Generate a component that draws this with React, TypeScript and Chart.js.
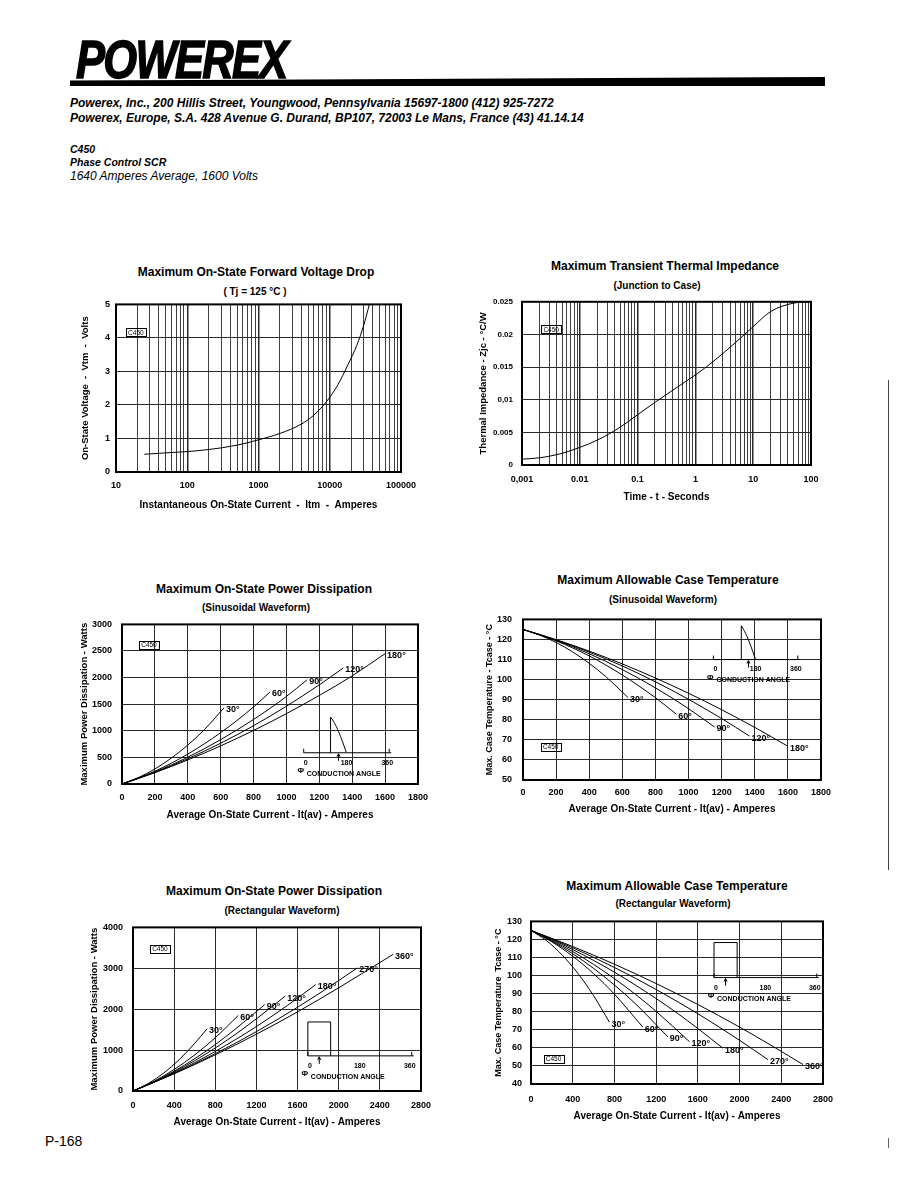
import React, { useEffect, useRef } from "react";
import { Chart, registerables } from "chart.js";

Chart.register(...registerables);

const FONT = "'Liberation Sans', Arial, Helvetica, sans-serif";

// ---------------- Chart 1: forward voltage drop ----------------
const fwdCurrent = [25, 50, 100, 200, 500, 1000, 2000, 4000, 6000, 9000, 13000, 18000, 24000, 30000, 36000];
const fwdVoltage = [0.53, 0.57, 0.61, 0.67, 0.8, 0.96, 1.15, 1.43, 1.7, 2.1, 2.6, 3.2, 3.78, 4.38, 5.0];
const fwdDecades = [10, 100, 1000, 10000, 100000];
const fwdDecadeLabels = ["10", "100", "1000", "10000", "100000"];

// ---------------- Chart 2: transient thermal impedance ----------------
const thermTime = [0.001, 0.002, 0.005, 0.01, 0.02, 0.05, 0.1, 0.2, 0.5, 1, 2, 5, 10, 20, 50, 100];
const thermZ = [0.0009, 0.0011, 0.0018, 0.0027, 0.0038, 0.0058, 0.0077, 0.0096, 0.012, 0.0138, 0.0158, 0.0188, 0.0212, 0.0235, 0.0248, 0.025];
const thermDecades = [0.001, 0.01, 0.1, 1, 10, 100];
const thermDecadeLabels = ["0,001", "0.01", "0.1", "1", "10", "100"];
const thermYLabels = ["0", "0.005", "0,01", "0.015", "0.02", "0.025"];

// ---------------- Chart 3: power dissipation, sinusoidal ----------------
const sinAngles = ["30°", "60°", "90°", "120°", "180°"];
const sinCur30 = [0, 100, 200, 300, 400, 500, 620];
const sinPow30 = [0, 121, 283, 487, 732, 1019, 1430];
const sinCur60 = [0, 200, 400, 600, 800, 900];
const sinPow60 = [0, 241, 562, 965, 1448, 1730];
const sinCur90 = [0, 200, 400, 600, 800, 1000, 1126];
const sinPow90 = [0, 226, 503, 833, 1213, 1646, 1960];
const sinCur120 = [0, 200, 400, 600, 800, 1000, 1200, 1346];
const sinPow120 = [0, 218, 474, 766, 1096, 1462, 1865, 2182];
const sinCur180 = [0, 200, 400, 600, 800, 1000, 1200, 1400, 1600];
const sinPow180 = [0, 213, 452, 716, 1007, 1323, 1665, 2033, 2450];

// ---------------- Chart 4: case temperature, sinusoidal ----------------
const tcsCur30 = [0, 100, 200, 300, 400, 500, 634];
const tcsT30 = [125, 122.2, 118.5, 113.8, 108.1, 101.5, 91.1];
const tcsCur60 = [0, 200, 400, 600, 800, 926];
const tcsT60 = [125, 119.3, 111.8, 102.3, 91, 82.8];
const tcsCur90 = [0, 200, 400, 600, 800, 1000, 1157];
const tcsT90 = [125, 119.6, 112.9, 105, 95.9, 85.5, 76.4];
const tcsCur120 = [0, 200, 400, 600, 800, 1000, 1200, 1368];
const tcsT120 = [125, 119.8, 113.7, 106.8, 98.9, 90.2, 80.6, 71.9];
const tcsCur180 = [0, 200, 400, 600, 800, 1000, 1200, 1400, 1600];
const tcsT180 = [125, 119.9, 114.2, 107.8, 100.8, 93.2, 85, 76.2, 66.8];

// ---------------- Chart 5: power dissipation, rectangular ----------------
const recAngles = ["30°", "60°", "90°", "120°", "180°", "270°", "360°"];
const recCur30 = [0, 150, 300, 450, 600, 720];
const recPow30 = [0, 185, 441, 768, 1166, 1520];
const recCur60 = [0, 200, 400, 600, 800, 1024];
const recPow60 = [0, 231, 526, 883, 1303, 1848];
const recCur90 = [0, 200, 400, 600, 800, 1000, 1280];
const recPow90 = [0, 221, 484, 789, 1135, 1524, 2110];
const recCur120 = [0, 200, 400, 600, 800, 1000, 1200, 1480];
const recPow120 = [0, 216, 463, 741, 1052, 1393, 1766, 2320];
const recCur180 = [0, 200, 400, 600, 800, 1000, 1200, 1400, 1600, 1776];
const recPow180 = [0, 210, 442, 694, 968, 1262, 1577, 1914, 2271, 2600];
const recCur270 = [0, 400, 800, 1200, 1600, 2000, 2180];
const recPow270 = [0, 428, 912, 1452, 2048, 2700, 3010];
const recCur360 = [0, 400, 800, 1200, 1600, 2000, 2528];
const recPow360 = [0, 421, 884, 1389, 1935, 2524, 3340];

// ---------------- Chart 6: case temperature, rectangular ----------------
const tcrCur30 = [0, 150, 300, 450, 600, 752];
const tcrT30 = [125, 119.3, 111.3, 101.2, 88.9, 74.2];
const tcrCur60 = [0, 200, 400, 600, 800, 1072];
const tcrT60 = [125, 118.7, 110.7, 101.1, 89.7, 71.5];
const tcrCur90 = [0, 200, 400, 600, 800, 1000, 1312];
const tcrT90 = [125, 119.1, 112.1, 104, 94.8, 84.5, 66.1];
const tcrCur120 = [0, 200, 400, 600, 800, 1000, 1200, 1520];
const tcrT120 = [125, 119.5, 113.3, 106.2, 98.3, 89.7, 80.2, 63.4];
const tcrCur180 = [0, 200, 400, 600, 800, 1000, 1200, 1400, 1600, 1840];
const tcrT180 = [125, 120, 114.4, 108.4, 101.9, 94.8, 87.3, 79.3, 70.7, 59.8];
const tcrCur270 = [0, 400, 800, 1200, 1600, 2000, 2272];
const tcrT270 = [125, 115.4, 104.5, 92.3, 78.9, 64.2, 53.5];
const tcrCur360 = [0, 400, 800, 1200, 1600, 2000, 2300, 2608];
const tcrT360 = [125, 116.1, 106.3, 95.6, 84, 71.5, 61.5, 50.8];

// ------------------------------------------------------------------
const PAD_TOP = 10;
const PAD_RIGHT = 30;
const TICK_SIZE = 9;

type Series = { x: number[]; y: number[]; label?: string };
type Inset = { kind: "sine" | "rect"; x0: number; x360: number; base: number; top: number; angle: number };
type Cfg = {
  plotL: number; plotT: number; plotR: number; plotB: number;
  yTitleX: number; xTitleY: number;
  xTitle: string; yTitle: string; xTitleSize: number; yTitleSize: number;
  xType: "linear" | "logarithmic"; xMin: number; xMax: number; xStep?: number;
  xGrid?: number[]; xDecades?: number[]; xDecadeLabels?: string[];
  yMin: number; yMax: number; yStep: number; yLabels?: string[]; yTickSize?: number;
  xTickPad: number; yTickPad: number;
  series: Series[];
  tag: [number, number];
  inset?: Inset;
};

function logGrid(decades: number[]) {
  const out: number[] = [];
  for (let i = 0; i < decades.length; i++) {
    if (i === decades.length - 1) { out.push(decades[i]); break; }
    for (let m = 1; m <= 9; m++) out.push(+(decades[i] * m).toPrecision(6));
  }
  return out;
}

function decorPlugin(cfg: Cfg) {
  return {
    id: "decor",
    afterDatasetsDraw(chart: any) {
      const { ctx, chartArea: a } = chart;
      const xs = chart.scales.x;
      const ys = chart.scales.y;
      ctx.save();
      ctx.strokeStyle = "#000";
      ctx.fillStyle = "#000";
      ctx.lineWidth = 2;
      ctx.strokeRect(a.left, a.top, a.right - a.left, a.bottom - a.top);

      // C450 tag
      ctx.font = `6.5px ${FONT}`;
      const tx = xs.getPixelForValue(cfg.tag[0]);
      const ty = ys.getPixelForValue(cfg.tag[1]);
      const tw = ctx.measureText("C450").width;
      ctx.lineWidth = 1;
      ctx.strokeRect(Math.round(tx - tw / 2 - 2) + 0.5, Math.round(ty - 4) + 0.5, Math.round(tw + 4), 8);
      ctx.textAlign = "center";
      ctx.textBaseline = "middle";
      ctx.fillText("C450", tx, ty + 0.5);

      // curve labels
      ctx.font = `bold 9px ${FONT}`;
      ctx.textAlign = "left";
      chart.data.datasets.forEach((ds: any, i: number) => {
        if (!ds.label) return;
        const pts = chart.getDatasetMeta(i).data;
        const p = pts[pts.length - 1];
        ctx.fillText(ds.label, p.x + 2, p.y + 2);
      });

      // conduction-angle inset
      const ins = cfg.inset;
      if (ins) {
        const X = (deg: number) => xs.getPixelForValue(ins.x0 + ((ins.x360 - ins.x0) * deg) / 360);
        const by = ys.getPixelForValue(ins.base);
        const tyy = ys.getPixelForValue(ins.top);
        ctx.lineWidth = 1;
        ctx.beginPath();
        ctx.moveTo(X(0), by);
        ctx.lineTo(X(360) + 2, by);
        ctx.moveTo(X(0), by);
        ctx.lineTo(X(0), by - 4);
        ctx.moveTo(X(360), by);
        ctx.lineTo(X(360), by - 4);
        ctx.stroke();
        ctx.beginPath();
        if (ins.kind === "sine") {
          const s = Math.sin((ins.angle * Math.PI) / 180);
          ctx.moveTo(X(ins.angle), by);
          ctx.lineTo(X(ins.angle), tyy);
          for (let d = ins.angle; d <= 180.01; d += 3) {
            ctx.lineTo(X(d), by - ((by - tyy) * Math.sin((d * Math.PI) / 180)) / s);
          }
        } else {
          ctx.moveTo(X(0), by);
          ctx.lineTo(X(0), tyy);
          ctx.lineTo(X(ins.angle), tyy);
          ctx.lineTo(X(ins.angle), by);
        }
        ctx.stroke();
        // arrow
        const ad = ins.kind === "sine" ? (ins.angle + 180) / 2 : ins.angle / 2;
        ctx.beginPath();
        ctx.moveTo(X(ad), by + 8);
        ctx.lineTo(X(ad), by + 1);
        ctx.stroke();
        ctx.beginPath();
        ctx.moveTo(X(ad) - 1.5, by + 4);
        ctx.lineTo(X(ad), by + 1);
        ctx.lineTo(X(ad) + 1.5, by + 4);
        ctx.stroke();
        ctx.font = `bold 7px ${FONT}`;
        ctx.textAlign = "center";
        ctx.textBaseline = "middle";
        ctx.fillText("0", X(0) + 2, by + 10);
        ctx.fillText("180", X(180), by + 10);
        ctx.fillText("360", X(360) - 2, by + 10);
        ctx.font = `bold 8px ${FONT}`;
        ctx.fillText("Φ", X(0) - 3, by + 18);
        ctx.font = `bold 7px ${FONT}`;
        ctx.textAlign = "left";
        ctx.fillText("CONDUCTION ANGLE", X(0) + 3, by + 21);
      }
      ctx.restore();
    },
  };
}

function buildConfig(cfg: Cfg, yW: number, xH: number): any {
  const tickFont = { family: FONT, size: TICK_SIZE, weight: "bold" };
  const gridColor = "#2a2a2a";
  const isDecade = (v: number) => (cfg.xDecades || []).some((d) => Math.abs(d - v) / d < 1e-6);
  const xScale: any = {
    type: cfg.xType,
    min: cfg.xMin,
    max: cfg.xMax,
    afterFit: (s: any) => { s.height = xH; },
    ticks: {
      autoSkip: false,
      maxRotation: 0,
      padding: cfg.xTickPad,
      font: tickFont,
      color: "#000",
    },
    grid: {
      color: gridColor,
      lineWidth: cfg.xGrid ? (c: any) => (c.tick && isDecade(c.tick.value) ? 1.5 : 0.9) : 1,
      drawTicks: false,
    },
    border: { display: false },
    title: {
      display: true,
      text: cfg.xTitle,
      color: "#000",
      padding: 0,
      font: { family: FONT, size: cfg.xTitleSize, weight: "bold" },
    },
  };
  if (cfg.xGrid) {
    const grid = cfg.xGrid;
    xScale.afterBuildTicks = (s: any) => { s.ticks = grid.map((v) => ({ value: v })); };
    xScale.ticks.callback = (v: number) => {
      const idx = (cfg.xDecades || []).findIndex((d) => Math.abs(d - v) / d < 1e-6);
      return idx >= 0 ? (cfg.xDecadeLabels || [])[idx] : "";
    };
  } else {
    xScale.ticks.stepSize = cfg.xStep;
    xScale.ticks.callback = (v: number) => String(v);
  }
  const yScale: any = {
    type: "linear",
    min: cfg.yMin,
    max: cfg.yMax,
    afterFit: (s: any) => { s.width = yW; },
    ticks: {
      stepSize: cfg.yStep,
      padding: cfg.yTickPad,
      font: { family: FONT, size: cfg.yTickSize || TICK_SIZE, weight: "bold" },
      color: "#000",
      callback: (v: number, i: number) => (cfg.yLabels ? cfg.yLabels[i] : String(v)),
    },
    grid: { color: gridColor, lineWidth: 1, drawTicks: false },
    border: { display: false },
    title: {
      display: true,
      text: cfg.yTitle,
      color: "#000",
      padding: 0,
      font: { family: FONT, size: cfg.yTitleSize, weight: "bold" },
    },
  };
  return {
    type: "line",
    data: {
      datasets: cfg.series.map((s) => ({
        label: s.label || "",
        data: s.x.map((x, i) => ({ x, y: s.y[i] })),
        borderColor: "#000",
        borderWidth: 1,
        pointRadius: 0,
        fill: false,
        tension: 0.4,
        cubicInterpolationMode: "monotone",
      })),
    },
    options: {
      responsive: false,
      animation: false,
      events: [],
      layout: { padding: { top: PAD_TOP, right: PAD_RIGHT, left: 0, bottom: 0 } },
      plugins: { legend: { display: false }, tooltip: { enabled: false }, title: { display: false } },
      scales: { x: xScale, y: yScale },
    },
    plugins: [decorPlugin(cfg)],
  };
}

function PlotCanvas({ cfg }: { cfg: Cfg }) {
  const ref = useRef<HTMLCanvasElement>(null);
  const L = Math.round(cfg.yTitleX - cfg.yTitleSize * 0.6);
  const T = cfg.plotT - PAD_TOP;
  const W = cfg.plotR + PAD_RIGHT - L;
  const H = Math.round(cfg.xTitleY + cfg.xTitleSize * 0.6) - T;
  useEffect(() => {
    const chart = new Chart(ref.current as HTMLCanvasElement, buildConfig(cfg, cfg.plotL - L, T + H - cfg.plotB));
    return () => chart.destroy();
  }, []);
  return (
    <canvas
      ref={ref}
      width={W}
      height={H}
      style={{ position: "absolute", left: L, top: T, width: W, height: H }}
    />
  );
}

function Label({ x, y, size, bold, italic, text, align }: any) {
  return (
    <div
      style={{
        position: "absolute",
        left: x,
        top: y,
        transform: align === "left" ? "translateY(-50%)" : "translate(-50%, -50%)",
        fontFamily: FONT,
        fontSize: size,
        fontWeight: bold ? "bold" : "normal",
        fontStyle: italic ? "italic" : "normal",
        lineHeight: 1.1,
        whiteSpace: "nowrap",
        color: "#000",
      }}
    >
      {text}
    </div>
  );
}

const charts: Cfg[] = [
  {
    plotL: 116, plotT: 303, plotR: 401, plotB: 472, yTitleX: 86, xTitleY: 505,
    xTitle: "Instantaneous On-State Current  -  Itm  -  Amperes", yTitle: "On-State Voltage  -  Vtm  -  Volts",
    xTitleSize: 10, yTitleSize: 9.5,
    xType: "logarithmic", xMin: 10, xMax: 100000, xGrid: logGrid(fwdDecades), xDecades: fwdDecades, xDecadeLabels: fwdDecadeLabels,
    yMin: 0, yMax: 5, yStep: 1, xTickPad: 8, yTickPad: 6,
    series: [{ x: fwdCurrent, y: fwdVoltage }],
    tag: [19, 4.17],
  },
  {
    plotL: 522, plotT: 298, plotR: 811, plotB: 465, yTitleX: 484, xTitleY: 497,
    xTitle: "Time - t - Seconds", yTitle: "Thermal Impedance - Zjc - °C/W",
    xTitleSize: 10, yTitleSize: 9.5,
    xType: "logarithmic", xMin: 0.001, xMax: 100, xGrid: logGrid(thermDecades), xDecades: thermDecades, xDecadeLabels: thermDecadeLabels,
    yMin: 0, yMax: 0.025, yStep: 0.005, yLabels: thermYLabels, yTickSize: 8, xTickPad: 9, yTickPad: 9,
    series: [{ x: thermTime, y: thermZ }],
    tag: [0.0032, 0.0208],
  },
  {
    plotL: 122, plotT: 619, plotR: 418, plotB: 784, yTitleX: 85, xTitleY: 815,
    xTitle: "Average On-State Current - It(av) - Amperes", yTitle: "Maximum Power Dissipation - Watts",
    xTitleSize: 10, yTitleSize: 9.5,
    xType: "linear", xMin: 0, xMax: 1800, xStep: 200,
    yMin: 0, yMax: 3000, yStep: 500, xTickPad: 8, yTickPad: 10,
    series: [
      { x: sinCur30, y: sinPow30, label: sinAngles[0] },
      { x: sinCur60, y: sinPow60, label: sinAngles[1] },
      { x: sinCur90, y: sinPow90, label: sinAngles[2] },
      { x: sinCur120, y: sinPow120, label: sinAngles[3] },
      { x: sinCur180, y: sinPow180, label: sinAngles[4] },
    ],
    tag: [164, 2618],
    inset: { kind: "sine", x0: 1105, x360: 1625, base: 587, top: 1255, angle: 113 },
  },
  {
    plotL: 523, plotT: 613, plotR: 821, plotB: 780, yTitleX: 489, xTitleY: 809,
    xTitle: "Average On-State Current - It(av) - Amperes", yTitle: "Max. Case Temperature - Tcase - °C",
    xTitleSize: 10, yTitleSize: 9,
    xType: "linear", xMin: 0, xMax: 1800, xStep: 200,
    yMin: 50, yMax: 130, yStep: 10, xTickPad: 7, yTickPad: 11,
    series: [
      { x: tcsCur30, y: tcsT30, label: sinAngles[0] },
      { x: tcsCur60, y: tcsT60, label: sinAngles[1] },
      { x: tcsCur90, y: tcsT90, label: sinAngles[2] },
      { x: tcsCur120, y: tcsT120, label: sinAngles[3] },
      { x: tcsCur180, y: tcsT180, label: sinAngles[4] },
    ],
    tag: [167, 66.5],
    inset: { kind: "sine", x0: 1150, x360: 1660, base: 110, top: 126.8, angle: 119 },
  },
  {
    plotL: 133, plotT: 922, plotR: 421, plotB: 1091, yTitleX: 95, xTitleY: 1122,
    xTitle: "Average On-State Current - It(av) - Amperes", yTitle: "Maximum Power Dissipation - Watts",
    xTitleSize: 10, yTitleSize: 9.5,
    xType: "linear", xMin: 0, xMax: 2800, xStep: 400,
    yMin: 0, yMax: 4000, yStep: 1000, xTickPad: 9, yTickPad: 10,
    series: [
      { x: recCur30, y: recPow30, label: recAngles[0] },
      { x: recCur60, y: recPow60, label: recAngles[1] },
      { x: recCur90, y: recPow90, label: recAngles[2] },
      { x: recCur120, y: recPow120, label: recAngles[3] },
      { x: recCur180, y: recPow180, label: recAngles[4] },
      { x: recCur270, y: recPow270, label: recAngles[5] },
      { x: recCur360, y: recPow360, label: recAngles[6] },
    ],
    tag: [262, 3479],
    inset: { kind: "rect", x0: 1700, x360: 2710, base: 859, top: 1688, angle: 79 },
  },
  {
    plotL: 531, plotT: 917, plotR: 823, plotB: 1084, yTitleX: 498, xTitleY: 1116,
    xTitle: "Average On-State Current - It(av) - Amperes", yTitle: "Max. Case Temperature  Tcase - °C",
    xTitleSize: 10, yTitleSize: 9,
    xType: "linear", xMin: 0, xMax: 2800, xStep: 400,
    yMin: 40, yMax: 130, yStep: 10, xTickPad: 10, yTickPad: 9,
    series: [
      { x: tcrCur30, y: tcrT30, label: recAngles[0] },
      { x: tcrCur60, y: tcrT60, label: recAngles[1] },
      { x: tcrCur90, y: tcrT90, label: recAngles[2] },
      { x: tcrCur120, y: tcrT120, label: recAngles[3] },
      { x: tcrCur180, y: tcrT180, label: recAngles[4] },
      { x: tcrCur270, y: tcrT270, label: recAngles[5] },
      { x: tcrCur360, y: tcrT360, label: recAngles[6] },
    ],
    tag: [216, 54],
    inset: { kind: "rect", x0: 1755, x360: 2740, base: 98.9, top: 118.3, angle: 81 },
  },
];

const titles = [
  { x: 256, y: 273, t: "Maximum On-State Forward Voltage Drop", sx: 255, sy: 291, s: "( Tj = 125 °C )" },
  { x: 665, y: 267, t: "Maximum Transient Thermal Impedance", sx: 657, sy: 285, s: "(Junction to Case)" },
  { x: 264, y: 590, t: "Maximum On-State Power Dissipation", sx: 256, sy: 607, s: "(Sinusoidal Waveform)" },
  { x: 668, y: 581, t: "Maximum Allowable Case Temperature", sx: 663, sy: 599, s: "(Sinusoidal Waveform)" },
  { x: 274, y: 892, t: "Maximum On-State Power Dissipation", sx: 282, sy: 910, s: "(Rectangular Waveform)" },
  { x: 677, y: 887, t: "Maximum Allowable Case Temperature", sx: 673, sy: 903, s: "(Rectangular Waveform)" },
];

export default function App() {
  return (
    <div
      style={{
        position: "absolute",
        left: 0,
        top: 0,
        width: 918,
        height: 1183,
        background: "#fff",
        overflow: "hidden",
        fontFamily: FONT,
        color: "#000",
      }}
    >
      <div
        style={{
          position: "absolute",
          left: 76,
          top: 33,
          fontFamily: FONT,
          fontSize: 53,
          lineHeight: "53px",
          fontWeight: 900,
          fontStyle: "italic",
          letterSpacing: -2,
          transform: "scaleX(0.82)",
          transformOrigin: "left top",
          whiteSpace: "nowrap",
          WebkitTextStroke: "1.5px #000",
        }}
      >
        POWEREX
      </div>
      <div
        style={{
          position: "absolute",
          left: 70,
          top: 77,
          width: 755,
          height: 9,
          background: "#000",
          clipPath: "polygon(0 40%, 100% 0, 100% 100%, 0 100%)",
        }}
      />
      <Label x={70} y={104} size={12} bold italic align="left" text="Powerex, Inc., 200 Hillis Street, Youngwood, Pennsylvania 15697-1800 (412) 925-7272" />
      <Label x={70} y={119} size={12} bold italic align="left" text="Powerex, Europe, S.A. 428 Avenue G. Durand, BP107, 72003 Le Mans, France (43) 41.14.14" />
      <Label x={70} y={150} size={10.5} bold italic align="left" text="C450" />
      <Label x={70} y={163} size={10.5} bold italic align="left" text="Phase Control SCR" />
      <Label x={70} y={177} size={12} italic align="left" text="1640 Amperes Average, 1600 Volts" />

      {titles.map((t, i) => (
        <React.Fragment key={i}>
          <Label x={t.x} y={t.y} size={12} bold text={t.t} />
          <Label x={t.sx} y={t.sy} size={10} bold text={t.s} />
        </React.Fragment>
      ))}

      {charts.map((c, i) => (
        <PlotCanvas key={i} cfg={c} />
      ))}

      <div style={{ position: "absolute", left: 888, top: 380, width: 1, height: 490, background: "#444" }} />
      <div style={{ position: "absolute", left: 888, top: 1138, width: 1, height: 10, background: "#666" }} />
      <Label x={45} y={1142} size={14} align="left" text="P-168" />
    </div>
  );
}
